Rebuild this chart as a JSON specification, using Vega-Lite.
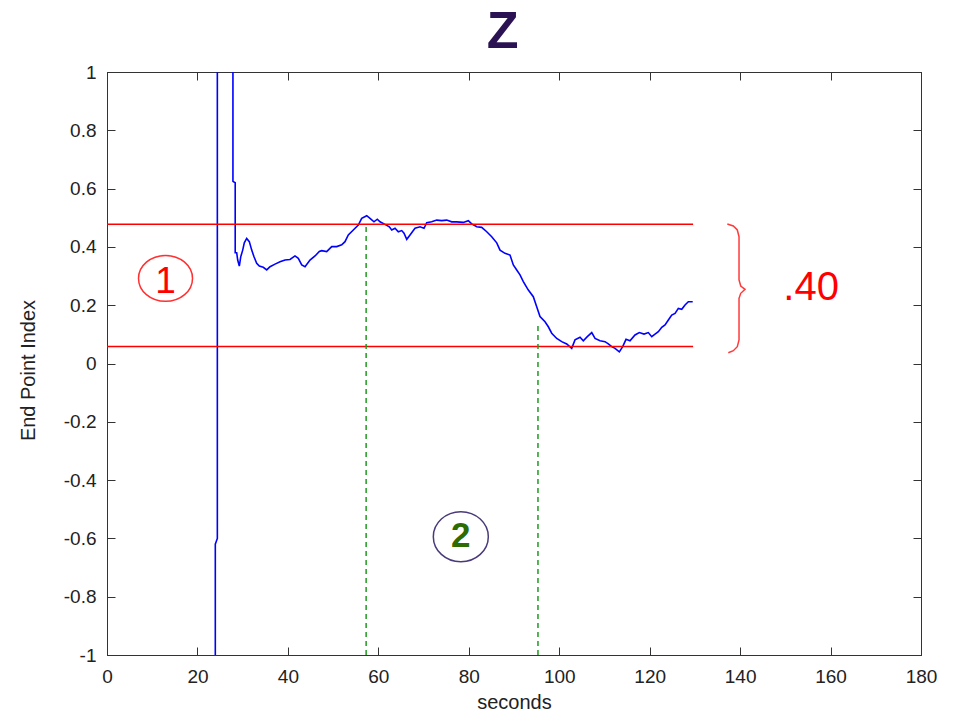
{
  "$schema": "https://vega.github.io/schema/vega-lite/v6.json",
  "width": 814,
  "height": 583,
  "autosize": {"type": "none"},
  "padding": {"left": 107, "top": 72, "right": 36, "bottom": 57},
  "background": "#ffffff",
  "title": {"text": "Z", "font": "Liberation Sans", "fontSize": 52, "fontWeight": "bold", "color": "#2b1353", "dx": -11.5, "offset": -37, "baseline": "alphabetic", "frame": "group"},
  "config": {
    "view": {"stroke": "#333333", "strokeWidth": 1},
    "axis": {"grid": false, "domainColor": "#333333", "tickColor": "#333333", "labelFont": "Liberation Sans", "titleFont": "Liberation Sans", "labelColor": "#222222", "titleColor": "#222222", "labelFontSize": 19, "titleFontSize": 20, "titleFontWeight": "normal", "tickSize": -8, "labelFlush": false, "labelOverlap": false}
  },
  "datasets": {
    "blue": [
      {"i":0,"x":23.95,"y":-1.05},{"i":1,"x":23.95,"y":-0.62},{"i":2,"x":24.4,"y":-0.6},{"i":3,"x":24.4,"y":1.05},
      {"i":4,"x":27.85,"y":1.05},{"i":5,"x":27.85,"y":0.625},{"i":6,"x":28.35,"y":0.62},{"i":7,"x":28.35,"y":0.38},
      {"i":8,"x":28.68,"y":0.380},{"i":9,"x":28.9,"y":0.355},{"i":10,"x":29.26,"y":0.334},{"i":11,"x":29.57,"y":0.366},
      {"i":12,"x":30.01,"y":0.389},{"i":13,"x":30.36,"y":0.414},{"i":14,"x":30.89,"y":0.429},{"i":15,"x":31.47,"y":0.418},
      {"i":16,"x":32.0,"y":0.389},{"i":17,"x":32.51,"y":0.366},{"i":18,"x":33.1,"y":0.344},{"i":19,"x":33.68,"y":0.334},
      {"i":20,"x":34.56,"y":0.33},{"i":21,"x":35.32,"y":0.321},{"i":22,"x":36.05,"y":0.332},{"i":23,"x":37.15,"y":0.341},
      {"i":24,"x":38.26,"y":0.349},{"i":25,"x":39.36,"y":0.355},{"i":26,"x":40.47,"y":0.357},{"i":27,"x":41.57,"y":0.369},
      {"i":28,"x":42.3,"y":0.361},{"i":29,"x":43.06,"y":0.338},{"i":30,"x":43.79,"y":0.332},{"i":31,"x":44.89,"y":0.355},
      {"i":32,"x":46.0,"y":0.369},{"i":33,"x":46.95,"y":0.384},{"i":34,"x":47.48,"y":0.387},{"i":35,"x":48.58,"y":0.384},
      {"i":36,"x":49.69,"y":0.401},{"i":37,"x":50.8,"y":0.401},{"i":38,"x":51.9,"y":0.407},{"i":39,"x":52.63,"y":0.418},
      {"i":40,"x":53.36,"y":0.441},{"i":41,"x":54.47,"y":0.458},{"i":42,"x":55.57,"y":0.475},{"i":43,"x":56.32,"y":0.498},
      {"i":44,"x":57.43,"y":0.507},{"i":45,"x":58.16,"y":0.498},{"i":46,"x":59.04,"y":0.486},{"i":47,"x":59.77,"y":0.495},
      {"i":48,"x":60.37,"y":0.486},{"i":49,"x":61.26,"y":0.479},{"i":50,"x":62.43,"y":0.469},{"i":51,"x":62.96,"y":0.458},
      {"i":52,"x":63.69,"y":0.464},{"i":53,"x":64.42,"y":0.452},{"i":54,"x":65.17,"y":0.456},{"i":55,"x":65.68,"y":0.447},
      {"i":56,"x":66.28,"y":0.426},{"i":57,"x":67.01,"y":0.441},{"i":58,"x":68.11,"y":0.464},{"i":59,"x":69.22,"y":0.469},
      {"i":60,"x":70.1,"y":0.464},{"i":61,"x":70.7,"y":0.483},{"i":62,"x":71.8,"y":0.486},{"i":63,"x":72.91,"y":0.492},
      {"i":64,"x":74.02,"y":0.49},{"i":65,"x":75.12,"y":0.492},{"i":66,"x":76.23,"y":0.486},{"i":67,"x":77.33,"y":0.486},
      {"i":68,"x":78.79,"y":0.484},{"i":69,"x":79.9,"y":0.49},{"i":70,"x":80.65,"y":0.479},{"i":71,"x":81.76,"y":0.469},
      {"i":72,"x":82.86,"y":0.467},{"i":73,"x":83.97,"y":0.452},{"i":74,"x":85.07,"y":0.435},{"i":75,"x":86.18,"y":0.414},
      {"i":76,"x":86.91,"y":0.389},{"i":77,"x":88.01,"y":0.378},{"i":78,"x":89.12,"y":0.372},{"i":79,"x":89.85,"y":0.338},
      {"i":80,"x":90.6,"y":0.321},{"i":81,"x":91.33,"y":0.304},{"i":82,"x":92.06,"y":0.281},{"i":83,"x":93.17,"y":0.252},
      {"i":84,"x":94.27,"y":0.229},{"i":85,"x":95.02,"y":0.195},{"i":86,"x":95.75,"y":0.161},{"i":87,"x":96.86,"y":0.143},
      {"i":88,"x":97.59,"y":0.126},{"i":89,"x":98.34,"y":0.104},{"i":90,"x":99.45,"y":0.086},{"i":91,"x":100.55,"y":0.075},
      {"i":92,"x":101.66,"y":0.067},{"i":93,"x":102.76,"y":0.052},{"i":94,"x":103.49,"y":0.081},{"i":95,"x":104.6,"y":0.09},
      {"i":96,"x":105.33,"y":0.078},{"i":97,"x":106.21,"y":0.092},{"i":98,"x":107.19,"y":0.106},{"i":99,"x":107.92,"y":0.086},
      {"i":100,"x":109.02,"y":0.078},{"i":101,"x":110.13,"y":0.075},{"i":102,"x":110.86,"y":0.067},{"i":103,"x":111.61,"y":0.058},
      {"i":104,"x":112.34,"y":0.052},{"i":105,"x":113.29,"y":0.04},{"i":106,"x":114.04,"y":0.058},{"i":107,"x":114.77,"y":0.083},
      {"i":108,"x":115.65,"y":0.078},{"i":109,"x":116.76,"y":0.098},{"i":110,"x":117.71,"y":0.106},{"i":111,"x":118.75,"y":0.101},
      {"i":112,"x":119.7,"y":0.106},{"i":113,"x":120.45,"y":0.092},{"i":114,"x":121.19,"y":0.101},{"i":115,"x":121.92,"y":0.109},
      {"i":116,"x":122.67,"y":0.124},{"i":117,"x":123.4,"y":0.132},{"i":118,"x":124.13,"y":0.149},{"i":119,"x":124.88,"y":0.166},
      {"i":120,"x":125.61,"y":0.172},{"i":121,"x":126.34,"y":0.189},{"i":122,"x":127.09,"y":0.186},{"i":123,"x":127.82,"y":0.201},
      {"i":124,"x":128.55,"y":0.212},{"i":125,"x":129.52,"y":0.212}
    ],
    "bands": [{"y": 0.478, "x1": 0, "x2": 129.6}, {"y": 0.058, "x1": 0, "x2": 129.6}],
    "markers": [{"x": 57.3, "y1": -1, "y2": 0.478}, {"x": 95.3, "y1": -1, "y2": 0.135}],
    "brace": [
      {"i":0,"x":137.17,"y":0.4786},{"i":1,"x":138.5,"y":0.4717},{"i":2,"x":139.38,"y":0.458},{"i":3,"x":139.76,"y":0.435},
      {"i":4,"x":139.76,"y":0.2864},{"i":5,"x":140.14,"y":0.2659},{"i":6,"x":141.09,"y":0.2545},{"i":7,"x":140.14,"y":0.2408},
      {"i":8,"x":139.76,"y":0.2237},{"i":9,"x":139.76,"y":0.0806},{"i":10,"x":139.38,"y":0.0576},{"i":11,"x":138.5,"y":0.0439},
      {"i":12,"x":137.39,"y":0.037}
    ]
  },
  "layer": [
    {
      "data": {"name": "blue"},
      "mark": {"type": "line", "color": "#0000ff", "strokeWidth": 1.6, "clip": true},
      "encoding": {
        "x": {"field": "x", "type": "quantitative", "scale": {"domain": [0, 180], "nice": false, "zero": false},
              "axis": {"orient": "bottom", "values": [0,20,40,60,80,100,120,140,160,180], "labelPadding": 20, "title": "seconds", "titleY": 53, "titleBaseline": "alphabetic"}},
        "y": {"field": "y", "type": "quantitative", "scale": {"domain": [-1, 1], "nice": false, "zero": false},
              "axis": {"orient": "left", "values": [-1,-0.8,-0.6,-0.4,-0.2,0,0.2,0.4,0.6,0.8,1], "labelExpr": "datum.value + ''", "labelPadding": 19, "title": "End Point Index", "titleX": -79, "titleY": 298, "titleBaseline": "middle", "titleAngle": -90}},
        "order": {"field": "i", "type": "quantitative"}
      }
    },
    {
      "data": {"name": "bands"},
      "mark": {"type": "rule", "color": "#ff0000", "strokeWidth": 1.5},
      "encoding": {
        "x": {"field": "x1", "type": "quantitative", "axis": {"orient": "top", "values": [0,20,40,60,80,100,120,140,160,180], "labels": false, "title": null}},
        "x2": {"field": "x2"},
        "y": {"field": "y", "type": "quantitative", "axis": {"orient": "right", "values": [-1,-0.8,-0.6,-0.4,-0.2,0,0.2,0.4,0.6,0.8,1], "labels": false, "title": null}}
      }
    },
    {
      "data": {"name": "markers"},
      "mark": {"type": "rule", "color": "#1f9a1f", "strokeWidth": 1.5, "strokeDash": [5, 4]},
      "encoding": {
        "x": {"field": "x", "type": "quantitative", "axis": null},
        "y": {"field": "y1", "type": "quantitative", "axis": null},
        "y2": {"field": "y2"}
      }
    },
    {
      "data": {"name": "brace"},
      "mark": {"type": "line", "color": "#ff3a3a", "strokeWidth": 1.5, "interpolate": "linear", "clip": false},
      "encoding": {
        "x": {"field": "x", "type": "quantitative", "axis": null},
        "y": {"field": "y", "type": "quantitative", "axis": null},
        "order": {"field": "i", "type": "quantitative"}
      }
    },
    {
      "data": {"values": [{"x": 155.7, "y": 0.218, "t": ".40"}]},
      "mark": {"type": "text", "color": "#ff0000", "font": "Liberation Sans", "fontSize": 40, "align": "center", "baseline": "alphabetic", "clip": false},
      "encoding": {
        "x": {"field": "x", "type": "quantitative", "axis": null},
        "y": {"field": "y", "type": "quantitative", "axis": null},
        "text": {"field": "t"}
      }
    },
    {
      "data": {"values": [{"x": 12.94, "y": 0.292}]},
      "mark": {"type": "point", "shape": "M-1,0C-1,-0.4695,-0.5523,-0.85,0,-0.85C0.5523,-0.85,1,-0.4695,1,0C1,0.4695,0.5523,0.85,0,0.85C-0.5523,0.85,-1,0.4695,-1,0Z", "size": 2916, "filled": false, "stroke": "#ff3030", "strokeWidth": 1.5, "opacity": 1},
      "encoding": {
        "x": {"field": "x", "type": "quantitative", "axis": null},
        "y": {"field": "y", "type": "quantitative", "axis": null}
      }
    },
    {
      "data": {"values": [{"x": 12.94, "y": 0.2408, "t": "1"}]},
      "mark": {"type": "text", "color": "#ff0000", "font": "Liberation Sans", "fontSize": 37, "align": "center", "baseline": "alphabetic"},
      "encoding": {
        "x": {"field": "x", "type": "quantitative", "axis": null},
        "y": {"field": "y", "type": "quantitative", "axis": null},
        "text": {"field": "t"}
      }
    },
    {
      "data": {"values": [{"x": 78.24, "y": -0.594}]},
      "mark": {"type": "point", "shape": "M-1,0C-1,-0.5026,-0.5523,-0.91,0,-0.91C0.5523,-0.91,1,-0.5026,1,0C1,0.5026,0.5523,0.91,0,0.91C-0.5523,0.91,-1,0.5026,-1,0Z", "size": 3025, "filled": false, "stroke": "#4a3a7a", "strokeWidth": 1.5, "opacity": 1},
      "encoding": {
        "x": {"field": "x", "type": "quantitative", "axis": null},
        "y": {"field": "y", "type": "quantitative", "axis": null}
      }
    },
    {
      "data": {"values": [{"x": 78.24, "y": -0.6285, "t": "2"}]},
      "mark": {"type": "text", "color": "#2e6b00", "font": "Liberation Sans", "fontSize": 35, "fontWeight": "bold", "align": "center", "baseline": "alphabetic"},
      "encoding": {
        "x": {"field": "x", "type": "quantitative", "axis": null},
        "y": {"field": "y", "type": "quantitative", "axis": null},
        "text": {"field": "t"}
      }
    }
  ],
  "resolve": {"axis": {"x": "independent", "y": "independent"}}
}
